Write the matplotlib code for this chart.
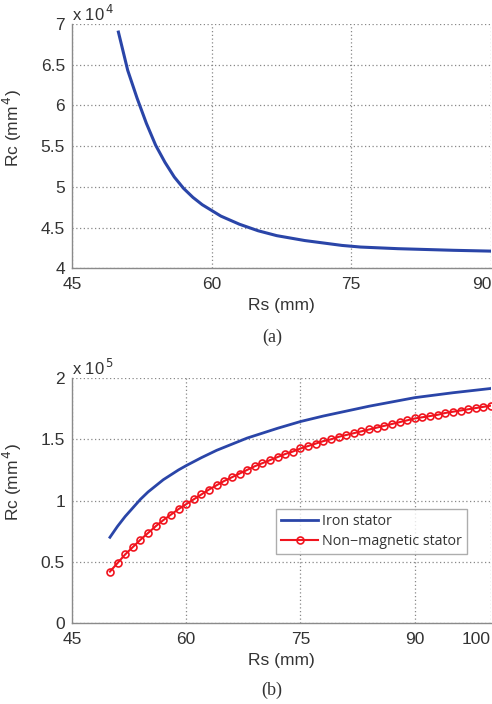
import matplotlib
matplotlib.use("Agg")
import matplotlib.pyplot as plt

plt.rcParams['font.family'] = ['Liberation Sans', 'DejaVu Sans']

# (a) Rc vs Rs, values in units of 1e4 mm^4
rs_a = [50, 51, 52, 53, 54, 55, 56, 57, 58, 59, 60, 61, 62, 63, 64, 65, 66, 67, 68, 69,
        70, 72, 74, 76, 78, 80, 83, 86, 90]
rc_a = [6.90, 6.43, 6.09, 5.78, 5.51, 5.30, 5.12, 4.98, 4.87, 4.78, 4.71, 4.64, 4.59, 4.54,
        4.50, 4.46, 4.43, 4.40, 4.38, 4.36, 4.34, 4.31, 4.28, 4.26, 4.25, 4.24, 4.23, 4.22, 4.21]

# (b) values in units of 1e5 mm^4
rs_iron = [50, 51, 52, 53, 54, 55, 56, 57, 58, 59, 60, 62, 64, 66, 68, 70, 72, 75, 78, 81,
           84, 87, 90, 95, 100]
rc_iron = [0.70, 0.79, 0.87, 0.94, 1.01, 1.07, 1.12, 1.17, 1.21, 1.25, 1.285, 1.35, 1.41,
           1.46, 1.51, 1.55, 1.59, 1.645, 1.69, 1.73, 1.77, 1.805, 1.84, 1.88, 1.915]

rs_nm = list(range(50, 101))
rc_nm = [0.42, 0.49, 0.56, 0.62, 0.68, 0.735, 0.79, 0.84, 0.885, 0.93,
         0.97, 1.01, 1.05, 1.09, 1.125, 1.16, 1.19, 1.22, 1.25, 1.28,
         1.305, 1.33, 1.355, 1.38, 1.40, 1.425, 1.445, 1.465, 1.485, 1.50,
         1.52, 1.535, 1.55, 1.565, 1.58, 1.595, 1.61, 1.625, 1.64, 1.655,
         1.67, 1.68, 1.69, 1.70, 1.715, 1.725, 1.735, 1.745, 1.755, 1.765, 1.775]

xticks_a = [45, 60, 75, 90]
yticks_a = [4, 4.5, 5, 5.5, 6, 6.5, 7]
xticks_b = [45, 60, 75, 90, 100]
yticks_b = [0, 0.5, 1, 1.5, 2]

BLUE = '#2a45a8'
RED = '#f0141e'
GRAYTXT = '#333333'
SPINE = '#8a8a8a'

fig = plt.figure(figsize=(4.92, 7.04), dpi=100)

def style(ax, xt, yt, xlim, ylim, exp):
    ax.set_xlim(*xlim)
    ax.set_ylim(*ylim)
    ax.set_xticks(xt)
    ax.set_xticklabels([f'{v:g}' for v in xt])
    ax.get_xticklabels()[-1].set_horizontalalignment('right')
    ax.set_yticks(yt)
    ax.set_yticklabels([f'{v:g}' for v in yt])
    for s in ['top', 'right']:
        ax.spines[s].set_visible(False)
    for s in ['left', 'bottom']:
        ax.spines[s].set_color(SPINE)
        ax.spines[s].set_linewidth(1.0)
    ax.tick_params(length=0, labelsize=12.5, colors=GRAYTXT)
    ax.tick_params(axis='x', pad=6.5)
    ax.tick_params(axis='y', pad=5)
    ax.grid(True, linestyle=(0, (1, 2)), color='#888888', linewidth=0.9)
    ax.set_axisbelow(True)
    ax.set_xlabel('Rs (mm)', fontsize=12.5, color=GRAYTXT, labelpad=4)
    ax.set_ylabel('Rc (mm$^{\\,4}$)', fontsize=12.5, color=GRAYTXT)
    ax.yaxis.set_label_coords(-0.115, 0.575)
    ax.text(0.0, 1.0, 'x 10$^{\\,%d}$' % exp, transform=ax.transAxes, ha='left', va='bottom',
            fontsize=12, color=GRAYTXT)

ax1 = fig.add_axes([0.146, 0.619, 0.852, 0.347])
ax1.plot(rs_a, rc_a, color=BLUE, linewidth=2.2)
style(ax1, xticks_a, yticks_a, (45, 90), (4, 7), 4)

ax2 = fig.add_axes([0.146, 0.115, 0.852, 0.348])
ax2.plot(rs_iron, rc_iron, color=BLUE, linewidth=2.0, label='Iron stator')
ax2.plot(rs_nm, rc_nm, color=RED, linewidth=1.5, marker='o', markersize=5,
         markerfacecolor='none', markeredgecolor=RED, markeredgewidth=1.2,
         label='Non\u2212magnetic stator')
style(ax2, xticks_b, yticks_b, (45, 100), (0, 2), 5)
leg = ax2.legend(loc='upper left', bbox_to_anchor=(0.487, 0.465), borderaxespad=0,
                 frameon=True, fancybox=False, edgecolor='#999999',
                 handlelength=2.6, handletextpad=0.3, borderpad=0.35, labelspacing=0.35,
                 prop={'family': 'Open Sans', 'size': 10.3})
leg.get_frame().set_linewidth(1.0)
for t in leg.get_texts():
    t.set_color(GRAYTXT)

fig.text(0.553, 0.521, '(a)', ha='center', va='center', fontsize=13,
         family='Liberation Serif', color=GRAYTXT)
fig.text(0.553, 0.020, '(b)', ha='center', va='center', fontsize=13,
         family='Liberation Serif', color=GRAYTXT)

fig.savefig('out.png', dpi=100)
